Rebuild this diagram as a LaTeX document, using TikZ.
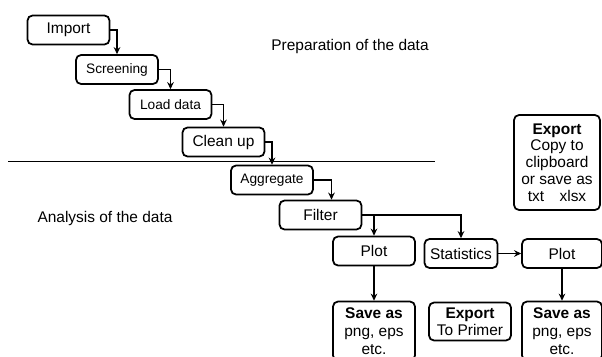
\documentclass[tikz,border=0pt]{standalone}
\usepackage{fontspec}
\setmainfont{Liberation Sans}
\usetikzlibrary{arrows.meta,positioning}

\begin{document}
\begin{tikzpicture}[x=0.02cm,y=-0.02cm,>={Stealth[length=4pt,width=3.8pt]},
 font=\fontsize{8.8}{9.6}\selectfont,
 box/.style={draw,line width=1pt,rounded corners=0.1cm,align=center,
  minimum width=1.64cm,minimum height=0.58cm,inner sep=1pt},
 small/.style={font=\fontsize{7.8}{9}\selectfont},
 savebox/.style={box,minimum height=1.18cm,font=\fontsize{8.8}{10.4}\selectfont},
 link/.style={->,line width=0.8pt}]
\useasboundingbox (0,0) rectangle (602,356);
\clip (0,0) rectangle (602,356);
% preparation steps
\node[box] (import) at (68.5,30) {Import};
\node[box,small] (screen) at (117,69.5) {Screening};
\node[box,small] (load) at (170.5,104.5) {Load data};
\node[box] (clean) at (223.5,142) {Clean up};
\node (prep) at (350,46) {Preparation of the data};
\coordinate (sepL) at (8,161.5);
\coordinate (sepR) at (435,161.5);
\draw[line width=0.8pt] (sepL) -- (sepR);
% analysis steps
\node (anal) at (105,218) {Analysis of the data};
\node[box,small] (agg) at (272,180) {Aggregate};
\node[box] (filter) at (320.5,215) {Filter};
\node[box] (plota) at (374,251) {Plot};
\node[box,minimum width=1.46cm] (stats) at (461,253.5) {Statistics};
\node[box,minimum width=1.6cm] (plotb) at (562,253.5) {Plot};
\node[box,minimum width=1.72cm,minimum height=1.9cm] (export) at (557,162.5)
 {\textbf{Export}\\Copy to\\clipboard\\or save as\\txt\quad xlsx};
\node[box,minimum height=0.76cm] (primer) at (470,321.5) {\textbf{Export}\\To Primer};
\node[savebox] (savea) at (374,331) {\textbf{Save as}\\png, eps\\etc.};
\node[savebox,minimum width=1.6cm] (saveb) at (562,331) {\textbf{Save as}\\png, eps\\etc.};
% connectors
\draw[link] (import.east) -| (screen.north);
\draw[link] (screen.east) -| (load.north);
\draw[link] (load.east) -| (clean.north);
\draw[link] (clean.east) -| (agg.north);
\draw[link] (agg.east) -| ([xshift=0.22cm]filter.north);
\draw[link] (filter.east) -| (plota.north);
\draw[link] (filter.east) -| (stats.north);
\draw[link] (stats) -- (plotb);
\draw[link] (plota) -- (savea);
\draw[link] (plotb) -- (saveb);
\end{tikzpicture}
\end{document}
